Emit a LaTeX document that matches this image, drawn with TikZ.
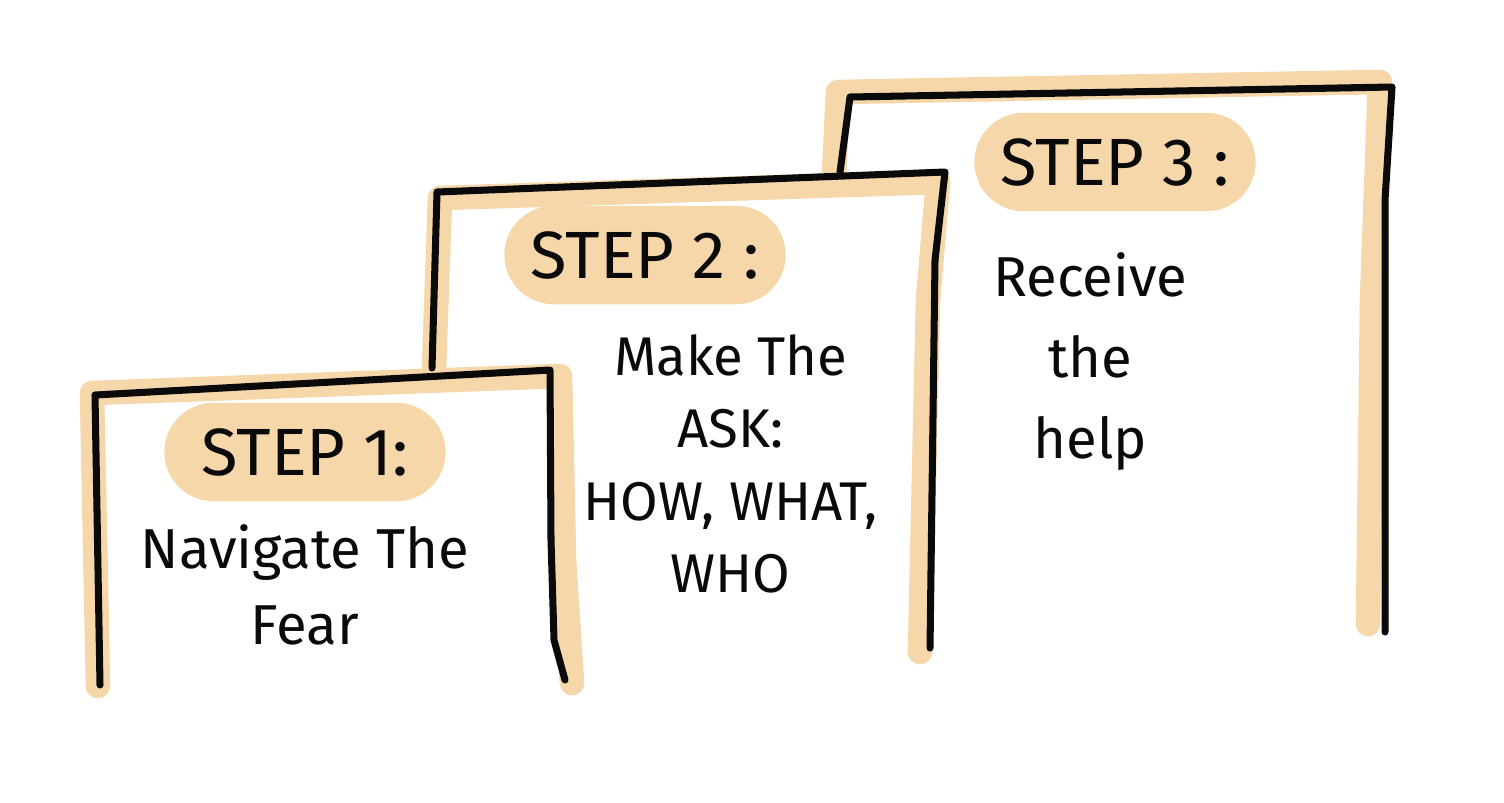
\documentclass[tikz,border=0pt]{standalone}
\usepackage{fontspec}
\setmainfont{Fira Sans}
\usetikzlibrary{positioning}
\definecolor{StepPeach}{HTML}{F6D7AA}
\definecolor{StepInk}{HTML}{0A0A0A}
\tikzset{
  ink/.style={draw=StepInk, line width=2pt, line cap=round, line join=round},
  glow/.style={draw=StepPeach, line width=7pt, line cap=round, line join=round},
  steptag/.style={fill=StepPeach, text=StepInk, rounded corners=14pt,
        minimum width=80pt, minimum height=28pt, font=\fontsize{19}{22}\selectfont},
  steptext/.style={text=StepInk, align=center, font=\fontsize{16}{21.5}\selectfont}
}

\begin{document}
\begin{tikzpicture}[x=0.01cm, y=-0.01cm]
  \useasboundingbox (0,0) rectangle (1504,802);

  % peach underlay of the three frames
  \draw[glow] (98,686) -- (92,393) -- (560,376) -- (564,560) -- (572,683);
  \draw[glow] (434,368) -- (440,198) -- (938,182) -- (928,300) -- (920,652);
  \draw[glow] (834,175) -- (838,92) -- (1380,82) -- (1372,300) -- (1368,624);

  % ink frames
  \draw[ink] (100,685) -- (95,395) -- (550,370) -- (551,540) -- (554,640) -- (565,680);
  \draw[ink] (432,368) -- (437,192) -- (945,172) -- (935,260) -- (930,648);
  \draw[ink] (840,172) -- (850,97) -- (1392,87) -- (1385,200) -- (1385,632);

  % step tags
  \node[steptag] (step1tag) at (305,452) {STEP 1:};
  \node[steptag] (step2tag) at (645,255) {STEP 2 :};
  \node[steptag] (step3tag) at (1115,162) {STEP 3 :};

  % step texts
  \node[steptext, below=3pt of step1tag] (step1text) {Navigate The\\Fear};
  \node[steptext, below right=5pt and -21pt of step2tag.south,
        font=\fontsize{15.5}{20.5}\selectfont] (step2text)
    {Make The\\ASK:\\HOW, WHAT,\\WHO};
  \node[steptext, below=8pt of step3tag.south, xshift=-7pt,
        font=\fontsize{16}{23}\selectfont] (step3text)
    {Receive\\the\\help};
\end{tikzpicture}
\end{document}
